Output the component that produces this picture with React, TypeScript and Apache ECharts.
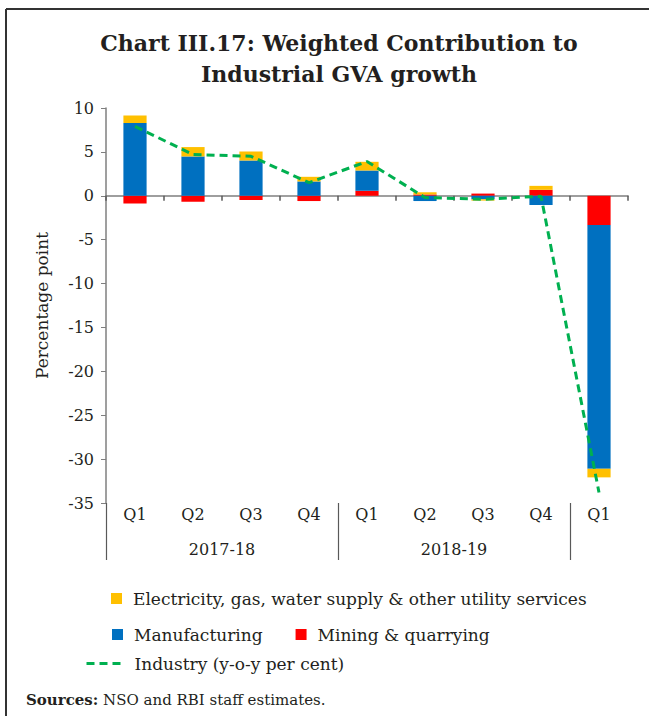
import React, { useEffect, useRef } from "react";
import * as echarts from "echarts";

const categories = ["Q1", "Q2", "Q3", "Q4", "Q1", "Q2", "Q3", "Q4", "Q1"];
const groupLabels = ["2017-18", "2018-19"];
const groupSizes = [4, 4, 1];

const mining = [-0.88, -0.68, -0.49, -0.6, 0.57, 0.15, 0.25, 0.68, -3.34];
const manufacturing = [8.28, 4.48, 4.02, 1.63, 2.31, -0.6, -0.4, -1.05, -27.76];
const electricity = [0.87, 1.07, 1.03, 0.53, 0.99, 0.25, -0.15, 0.45, -0.98];
const industry = [7.9, 4.7, 4.5, 1.5, 3.9, -0.2, -0.4, -0.05, -33.8];

const yTicks = { min: -35, max: 10, interval: 5 };

const NAME_ELEC = "Electricity, gas, water supply & other utility services";
const NAME_MANU = "Manufacturing";
const NAME_MINE = "Mining & quarrying";
const NAME_IND = "Industry (y-o-y per cent)";

const FONT = "'DejaVu Serif', 'Liberation Serif', serif";
const TXT = "#231f20";

// half-slot axis for the group level: point i is at i/2 categories
function buildGroupAxis() {
  const n = categories.length * 2 + 1;
  const data: string[] = new Array(n).fill("");
  const ticks = new Set<number>([0]);
  let start = 0;
  groupSizes.forEach((size, gi) => {
    if (groupLabels[gi]) data[start * 2 + size] = groupLabels[gi];
    start += size;
    if (start < categories.length) ticks.add(start * 2);
  });
  return { data, ticks };
}

export default function App() {
  const ref = useRef<HTMLDivElement>(null);
  useEffect(() => {
    if (!ref.current) return;
    const chart = echarts.init(ref.current, undefined, { renderer: "svg" });
    const g = buildGroupAxis();
    const option: any = {
      animation: false,
      backgroundColor: "#ffffff",
      title: {
        text: "Chart III.17: Weighted Contribution to\nIndustrial GVA growth",
        left: 334,
        top: 22,
        textAlign: "center",
        textStyle: {
          fontFamily: FONT,
          fontWeight: "bold",
          fontSize: 22,
          lineHeight: 31,
          color: TXT,
        },
      },
      grid: { left: 106, right: 21, top: 108, bottom: 213, containLabel: false },
      legend: [
        {
          data: [NAME_ELEC],
          left: 106,
          top: 585,
          icon: "rect",
          itemWidth: 11,
          itemHeight: 11,
          textStyle: { fontFamily: FONT, fontSize: 17, color: TXT, padding: [0, 0, 0, 6] },
        },
        {
          data: [NAME_MANU, NAME_MINE],
          left: 107,
          top: 621,
          icon: "rect",
          itemWidth: 11,
          itemHeight: 11,
          itemGap: 33,
          textStyle: { fontFamily: FONT, fontSize: 17, color: TXT, padding: [0, 0, 0, 6] },
        },
        {
          data: [NAME_IND],
          left: 80,
          top: 650,
          itemWidth: 35,
          itemHeight: 11,
          itemStyle: { opacity: 0 },
          lineStyle: { color: "#00B050", width: 3, type: [8, 5] },
          textStyle: { fontFamily: FONT, fontSize: 17, color: TXT, padding: [0, 0, 0, 8] },
        },
      ],
      xAxis: [
        {
          type: "category",
          data: categories,
          position: "bottom",
          axisLine: { onZero: true, lineStyle: { color: "#7f7f7f", width: 1.5 } },
          axisTick: { show: true, length: 5, lineStyle: { color: "#595959", width: 1.5 } },
          axisLabel: { show: false },
          splitLine: { show: false },
        },
        {
          type: "category",
          data: categories,
          position: "bottom",
          axisLine: { show: false, onZero: false },
          axisTick: { show: false },
          axisLabel: { margin: 3, fontFamily: FONT, fontSize: 16, color: TXT, interval: 0 },
        },
        {
          type: "category",
          data: g.data,
          boundaryGap: false,
          position: "bottom",
          axisLine: { show: false, onZero: false },
          axisTick: {
            show: true,
            length: 57,
            interval: (i: number) => g.ticks.has(i),
            lineStyle: { color: "#595959", width: 1.2 },
          },
          axisLabel: {
            interval: 0,
            margin: 38,
            fontFamily: FONT,
            fontSize: 16,
            color: TXT,
            showMinLabel: true,
            showMaxLabel: true,
          },
        },
      ],
      yAxis: {
        type: "value",
        min: yTicks.min,
        max: yTicks.max,
        interval: yTicks.interval,
        name: "Percentage point",
        nameLocation: "middle",
        nameGap: 56,
        nameTextStyle: { fontFamily: FONT, fontSize: 17, color: TXT },
        axisLine: { show: true, lineStyle: { color: "#7f7f7f", width: 1.5 } },
        axisTick: { show: true, length: 5, lineStyle: { color: "#7f7f7f" } },
        axisLabel: { margin: 12, fontFamily: FONT, fontSize: 16, color: TXT },
        splitLine: { show: false },
      },
      series: [
        {
          name: NAME_MINE,
          type: "bar",
          stack: "s",
          barWidth: "40%",
          data: mining,
          itemStyle: { color: "#FF0000" },
        },
        {
          name: NAME_MANU,
          type: "bar",
          stack: "s",
          barWidth: "40%",
          data: manufacturing,
          itemStyle: { color: "#0070C0" },
        },
        {
          name: NAME_ELEC,
          type: "bar",
          stack: "s",
          barWidth: "40%",
          data: electricity,
          itemStyle: { color: "#FFC000" },
        },
        {
          name: NAME_IND,
          type: "line",
          data: industry,
          symbol: "none",
          z: 5,
          itemStyle: { color: "#00B050" },
          lineStyle: { color: "#00B050", width: 3, type: [8, 5] },
        },
      ],
      graphic: [
        {
          type: "line",
          shape: { x1: 6, y1: 9, x2: 649, y2: 9 },
          style: { stroke: "#333333", lineWidth: 2 },
        },
        {
          type: "line",
          shape: { x1: 6, y1: 9, x2: 6, y2: 716 },
          style: { stroke: "#333333", lineWidth: 2 },
        },
        {
          type: "text",
          left: 26,
          top: 692,
          style: {
            text: "{b|Sources:} NSO and RBI staff estimates.",
            fontFamily: FONT,
            fontSize: 15,
            fill: TXT,
            rich: {
              b: { fontFamily: FONT, fontSize: 15, fontWeight: "bold", fill: TXT },
            },
          },
        },
      ],
    };
    chart.setOption(option);
    return () => chart.dispose();
  }, []);
  return (
    <div style={{ position: "absolute", left: 0, top: 0, width: 649, height: 716 }}>
      <div ref={ref} style={{ width: 649, height: 716 }} />
    </div>
  );
}
